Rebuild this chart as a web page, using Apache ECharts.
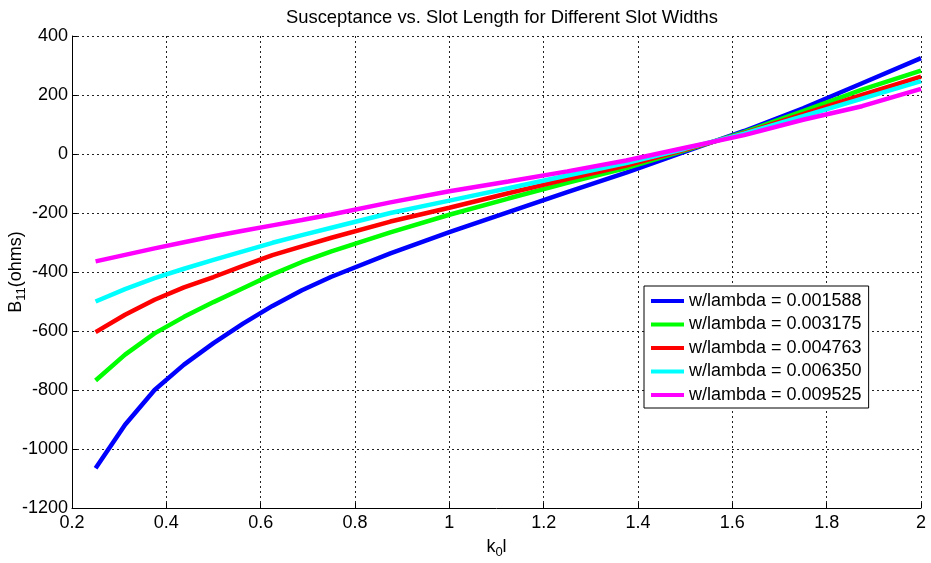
<!DOCTYPE html>
<html>
<head>
<meta charset="utf-8">
<script src="https://cdn.jsdelivr.net/npm/echarts@6/dist/echarts.min.js"></script>
<style>
html,body{margin:0;padding:0;background:#fff;}
#chart{width:931px;height:563px;}
</style>
</head>
<body>
<div id="chart"></div>
<script>
var k0l = [0.25, 0.3125, 0.375, 0.4375, 0.5, 0.5625, 0.625, 0.6875, 0.75, 0.875, 1.0, 1.125, 1.25, 1.375, 1.5, 1.625, 1.75, 1.875, 2.0];
var w001588 = [-1065, -918, -800, -714, -641, -575, -515, -462, -416, -337, -265, -197, -129, -63, 8, 78, 155, 240, 325];
var w003175 = [-768, -680, -608, -552, -502, -455, -408, -366, -330, -266, -206, -151, -98, -48, 12, 74, 145, 218, 283];
var w004763 = [-604, -545, -494, -452, -417, -379, -343, -313, -284, -229, -182, -133, -85, -39, 15, 71, 135, 200, 262];
var w006350 = [-500, -458, -421, -389, -359, -330, -301, -275, -250, -200, -158, -116, -73, -31, 18, 69, 128, 188, 247];
var w009525 = [-364, -342, -320, -299, -279, -260, -242, -224, -205, -164, -126, -93, -59, -22, 21, 64, 116, 162, 221];
var yTicks = [-1200, -1000, -800, -600, -400, -200, 0, 200, 400];
var xTicks = [0.2, 0.4, 0.6, 0.8, 1, 1.2, 1.4, 1.6, 1.8, 2];
var seriesNames = ['w/lambda = 0.001588', 'w/lambda = 0.003175', 'w/lambda = 0.004763', 'w/lambda = 0.006350', 'w/lambda = 0.009525'];
var seriesValues = [w001588, w003175, w004763, w006350, w009525];
var seriesColors = ['#0000ff', '#00ff00', '#ff0000', '#00ffff', '#ff00ff'];

var FONT = 'Liberation Sans, Arial, Helvetica, sans-serif';
var chart = echarts.init(document.getElementById('chart'));

function pairs(xs, ys) {
  var out = [];
  for (var i = 0; i < xs.length; i++) out.push([xs[i], ys[i]]);
  return out;
}

var series = seriesNames.map(function (n, i) {
  return {
    name: n,
    type: 'line',
    data: pairs(k0l, seriesValues[i]),
    showSymbol: false,
    symbol: 'none',
    lineStyle: { color: seriesColors[i], width: 4.5 },
    itemStyle: { color: seriesColors[i] },
    animation: false,
    z: 2 + i
  };
});

var gridLine = { show: true, lineStyle: { color: '#222', width: 1, type: [2, 3] } };

chart.setOption({
  backgroundColor: '#ffffff',
  animation: false,
  title: {
    text: 'Susceptance vs. Slot Length for Different Slot Widths',
    left: 497, textAlign: 'center',
    top: 4,
    textStyle: { fontFamily: FONT, fontSize: 18.4, fontWeight: 'normal', color: '#000' }
  },
  grid: { left: 72, right: 10, top: 36, bottom: 55, containLabel: false, outerBoundsMode: 'none' },
  legend: {
    orient: 'vertical',
    left: 644, top: 286,
    backgroundColor: '#fff',
    borderColor: '#000', borderWidth: 1,
    padding: [5, 7, 3, 7],
    itemWidth: 33, itemHeight: 4, itemGap: 3.5,
    icon: 'rect',
    textStyle: { fontFamily: FONT, fontSize: 18, color: '#000', lineHeight: 20 },
    data: seriesNames
  },
  xAxis: {
    type: 'value', min: xTicks[0], max: xTicks[xTicks.length - 1], interval: 0.2,
    name: 'k{sub|0}l', nameLocation: 'middle', nameGap: 28, nameMoveOverlap: false,
    nameTextStyle: {
      fontFamily: FONT, fontSize: 18, color: '#000',
      rich: { sub: { fontFamily: FONT, fontSize: 13, color: '#000', padding: [10, 0, 0, 0] } }
    },
    axisLine: { show: true, onZero: false, lineStyle: { color: '#000', width: 1 } },
    axisTick: { show: true, inside: true, length: 5, lineStyle: { color: '#000' } },
    axisLabel: {
      fontFamily: FONT, fontSize: 18, color: '#000', margin: 6,
      formatter: function (v) { return String(Math.round(v * 10) / 10); }
    },
    splitLine: gridLine
  },
  yAxis: {
    type: 'value', min: yTicks[0], max: yTicks[yTicks.length - 1], interval: 200,
    name: 'B{sub|11}(ohms)', nameLocation: 'middle', nameGap: 44, nameRotate: 90, nameMoveOverlap: false,
    nameTextStyle: {
      fontFamily: FONT, fontSize: 18, color: '#000',
      rich: { sub: { fontFamily: FONT, fontSize: 13, color: '#000', padding: [10, 0, 0, 0] } }
    },
    axisLine: { show: true, onZero: false, lineStyle: { color: '#000', width: 1 } },
    axisTick: { show: true, inside: true, length: 5, lineStyle: { color: '#000' } },
    axisLabel: {
      fontFamily: FONT, fontSize: 18, color: '#000', margin: 4,
      formatter: function (v) { return String(Math.round(v)); }
    },
    splitLine: gridLine
  },
  series: series
});
</script>
</body>
</html>
